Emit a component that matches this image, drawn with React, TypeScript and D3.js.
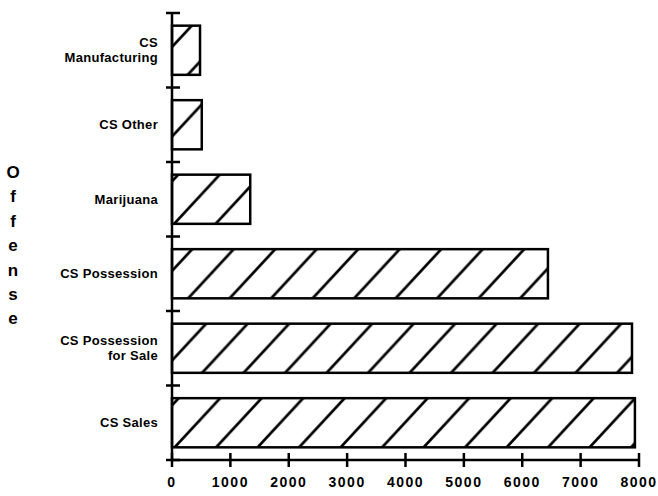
import * as d3 from 'd3';
import React from 'react';

// categories listed top to bottom
const categories = [
  'CS Manufacturing',
  'CS Other',
  'Marijuana',
  'CS Possession',
  'CS Possession for Sale',
  'CS Sales',
];
const values = [480, 510, 1340, 6440, 7880, 7930];
const labelLines: Record<string, string[]> = {
  'CS Manufacturing': ['CS', 'Manufacturing'],
  'CS Possession for Sale': ['CS Possession', 'for Sale'],
};
const xTicks = [0, 1000, 2000, 3000, 4000, 5000, 6000, 7000, 8000];
const axisTitle = 'Offense';

const width = 658;
const height = 496;
const font = '"Liberation Sans", Arial, Helvetica, sans-serif';

const App: React.FC = () => {
  const xScale = d3.scaleLinear().domain([0, 8000]).range([172, 639]);
  const yScale = d3
    .scaleBand<string>()
    .domain(categories)
    .range([13, 460])
    .paddingInner(0.34)
    .paddingOuter(0.17);

  const step = yScale.step();
  const gap = (step * yScale.paddingInner()) / 2;
  const boundaries = categories.map((c) => (yScale(c) ?? 0) - gap);
  boundaries.push(460);

  const hatchW = 41.5;
  const hatchH = 44.8;

  return (
    <svg
      width={width}
      height={height}
      style={{ position: 'absolute', left: 0, top: 0, background: '#fff' }}
      fontFamily={font}
    >
      <defs>
        <pattern id="hatch" patternUnits="userSpaceOnUse" width={hatchW} height={hatchH} x={8}>
          <path
            d={`M0,${hatchH} L${hatchW},0 M${-hatchW / 4},${hatchH / 4} L${hatchW / 4},${-hatchH / 4} M${(3 * hatchW) / 4},${(5 * hatchH) / 4} L${(5 * hatchW) / 4},${(3 * hatchH) / 4}`}
            stroke="#000"
            strokeWidth={2.7}
          />
        </pattern>
      </defs>

      {categories.map((c, i) => (
        <rect
          key={c}
          x={xScale(0)}
          y={yScale(c)}
          width={xScale(values[i]) - xScale(0)}
          height={yScale.bandwidth()}
          fill="url(#hatch)"
          stroke="#000"
          strokeWidth={2.5}
        />
      ))}

      {/* y axis */}
      <line x1={172} y1={boundaries[0]} x2={172} y2={460} stroke="#000" strokeWidth={2.5} />
      {boundaries.map((b, i) => (
        <line key={`yt-${i}`} x1={166} x2={180} y1={b} y2={b} stroke="#000" strokeWidth={2.5} />
      ))}

      {/* category labels */}
      {categories.map((c) => {
        const lines = labelLines[c] ?? [c];
        const cy = (yScale(c) ?? 0) + yScale.bandwidth() / 2;
        return (
          <text
            key={`lab-${c}`}
            x={158}
            y={cy - ((lines.length - 1) * 15) / 2}
            textAnchor="end"
            fontSize={13}
            fontWeight="bold"
            letterSpacing={0.3}
          >
            {lines.map((l, j) => (
              <tspan key={j} x={158} dy={j === 0 ? '0.35em' : 15}>
                {l}
              </tspan>
            ))}
          </text>
        );
      })}

      {/* x axis */}
      <line x1={xScale(0)} y1={460} x2={xScale(8000)} y2={460} stroke="#000" strokeWidth={2.5} />
      {xTicks.map((t) => (
        <g key={`xt-${t}`} transform={`translate(${xScale(t)},460)`}>
          <line y1={-7} y2={7} stroke="#000" strokeWidth={2.5} />
          <text y={22} dy="0.35em" textAnchor="middle" fontSize={14} fontWeight="bold" letterSpacing={1.5}>
            {t}
          </text>
        </g>
      ))}

      {/* vertical axis title */}
      {axisTitle.split('').map((ch, i) => (
        <text
          key={`t-${i}`}
          x={13}
          y={172 + i * 24.4}
          dy="0.35em"
          textAnchor="middle"
          fontSize={17}
          fontWeight="bold"
        >
          {ch}
        </text>
      ))}
    </svg>
  );
};

export default App;
